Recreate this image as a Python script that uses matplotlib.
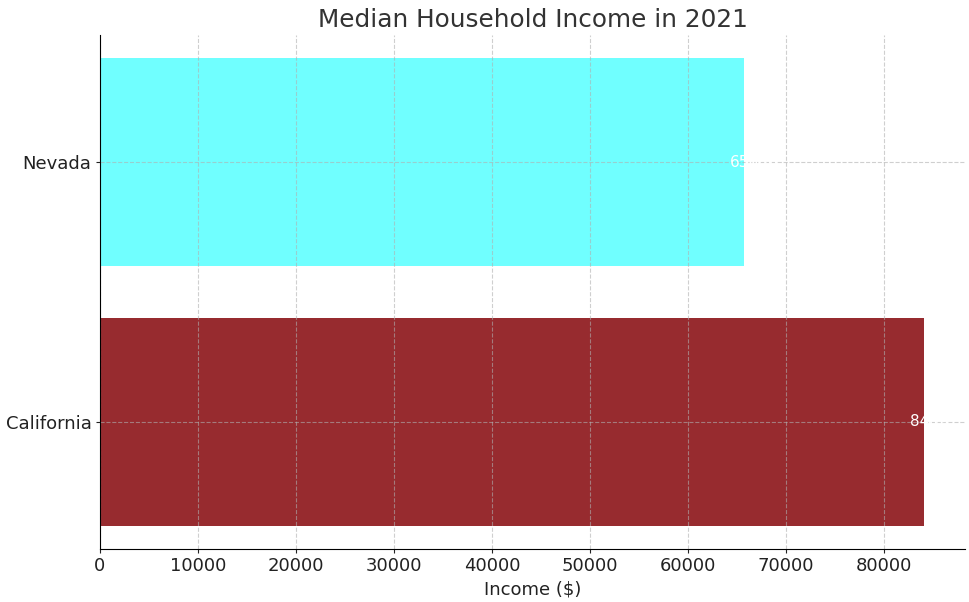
import matplotlib
matplotlib.use('Agg')
import matplotlib.pyplot as plt

# 数据 -------------------------------------------------------------
states = ['California', 'Nevada']
income = [84097, 65686]
colors = ['#972B2F', '#70FFFF']

fig, ax = plt.subplots(figsize=(9.7, 6.02), dpi=100)
fig.subplots_adjust(left=0.103, right=0.995, top=0.942, bottom=0.088)

bars = ax.barh(states, income, color=colors, height=0.8, zorder=1)

# 白色数值标签（超出柱子部分看不见）
for i, v in enumerate(income):
    ax.text(v - 1400, i, str(v), color='white', va='center', ha='left',
            fontsize=11, zorder=3)

ax.set_title('Median Household Income in 2021', fontsize=17.8, color='#333333')
ax.set_xlabel('Income ($)', fontsize=13, color='#222222')
ax.tick_params(axis='both', labelsize=13, colors='#222222', length=3, pad=3)
ax.set_axisbelow(False)
ax.grid(True, linestyle='--', color='#b0b0b0', alpha=0.6, linewidth=0.8)
ax.spines['top'].set_visible(False)
ax.spines['right'].set_visible(False)
for s in ('left', 'bottom'):
    ax.spines[s].set_zorder(4)

plt.savefig('out.png', dpi=100)
plt.close()
